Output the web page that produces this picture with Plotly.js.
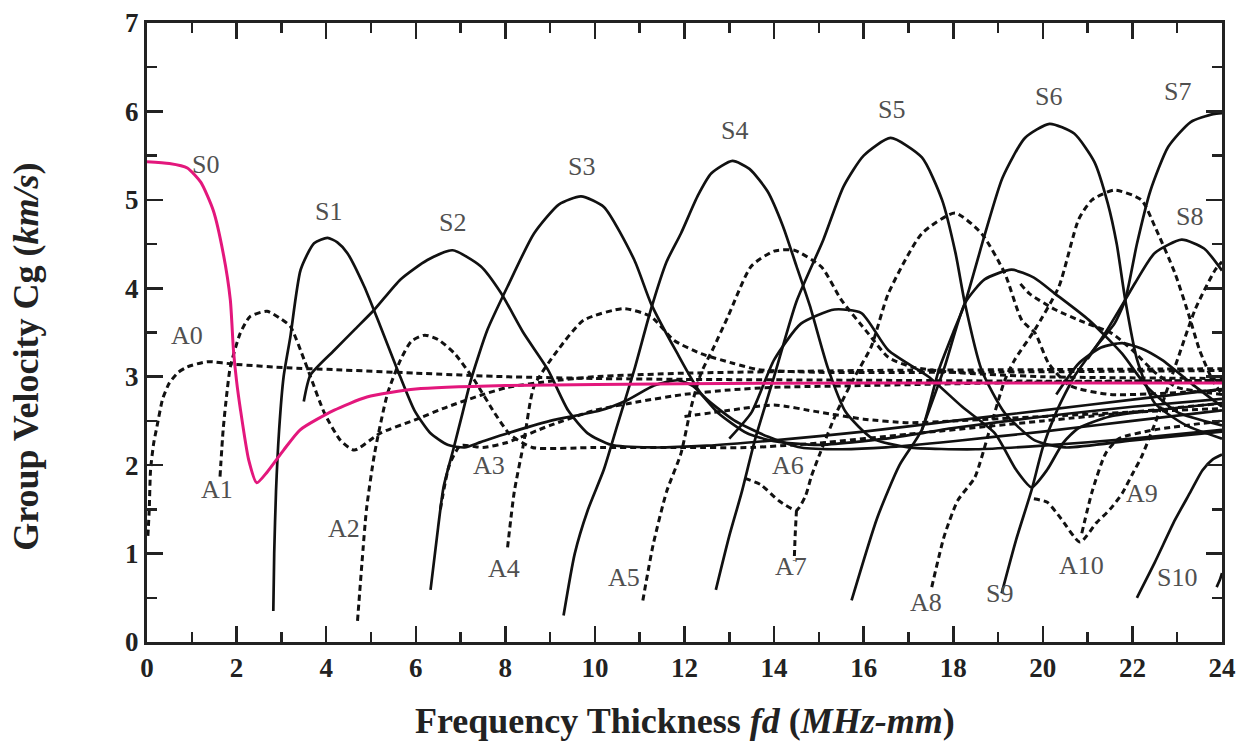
<!DOCTYPE html>
<html><head><meta charset="utf-8">
<script src="https://cdn.plot.ly/plotly-3.0.1.min.js"></script>
<style>html,body{margin:0;padding:0;background:#fff}#chart{width:1245px;height:746px}</style>
</head><body><div id="chart"></div>
<script>
// ---------- data (fd in MHz-mm, Cg in km/s) ----------
const S0_fd = [0,0.5,0.9,1.2,1.48,1.7,1.86,1.93,2.0,2.08,2.27,2.45,2.68,3.05,3.42,4.17,4.91,6.0,8,12,16,24];
const S0_cg = [5.43,5.41,5.36,5.2,4.88,4.4,3.87,3.3,2.95,2.65,2.06,1.80,1.92,2.17,2.40,2.62,2.77,2.86,2.9,2.92,2.93,2.93];

const S1_fd = [2.82,2.84,2.88,2.95,3.05,3.2,3.43,3.73,4.03,4.25,4.47,4.85,5.21,5.59,5.97,6.33,6.71,7.09,7.45,8.05,9.0,10.13,10.74,11.32,11.85,12.2,12.75,13.4,14.0,15.0,16.5,18,20,22,24];
const S1_cg = [0.35,1.0,1.7,2.4,3.0,3.45,4.21,4.51,4.57,4.52,4.4,4.02,3.57,3.08,2.62,2.36,2.23,2.2,2.26,2.36,2.5,2.62,2.74,2.9,2.96,2.89,2.59,2.36,2.27,2.23,2.3,2.42,2.55,2.66,2.75];
const S2_fd = [3.5,3.65,4.18,4.63,5.08,5.66,6.26,6.82,7.45,7.9,8.4,8.95,9.4,9.84,10.36,11.25,12.5,14,16,18,20,22,24];
const S2_cg = [2.72,3.02,3.3,3.53,3.76,4.1,4.32,4.43,4.25,3.95,3.5,3.08,2.62,2.36,2.23,2.2,2.22,2.28,2.38,2.5,2.62,2.74,2.86];
const S3_fd = [6.33,6.5,6.62,6.85,7.05,7.23,7.6,8.05,8.64,9.2,9.69,10.2,10.88,11.25,11.8,12.37,13.1,13.87,14.6,15.5,16.5,18,20,22,24];
const S3_cg = [0.59,1.3,1.75,2.2,2.6,2.96,3.53,4.02,4.62,4.95,5.04,4.92,4.32,3.83,3.3,2.81,2.51,2.32,2.2,2.18,2.2,2.27,2.38,2.5,2.62];
const S4_fd = [9.3,9.55,9.84,10.2,10.5,10.88,11.25,11.6,11.92,12.3,12.6,13.07,13.45,13.85,14.2,14.5,14.8,15.2,15.6,16.2,17.0,18.5,20,22,24];
const S4_cg = [0.3,1.0,1.49,1.95,2.45,3.08,3.76,4.3,4.62,5.05,5.3,5.44,5.35,5.1,4.7,4.25,3.8,3.1,2.6,2.3,2.2,2.18,2.22,2.3,2.4];
const S5_fd = [12.7,13.0,13.27,13.57,14.0,14.5,15.1,15.55,16.0,16.6,17.3,17.75,18.05,18.26,18.63,19.15,19.82,20.5,22,24];
const S5_cg = [0.59,1.2,1.68,2.28,3.0,3.85,4.55,5.15,5.5,5.7,5.48,5.0,4.4,3.83,3.08,2.59,2.28,2.2,2.28,2.38];
const S6_fd = [15.73,16.3,16.8,17.3,17.68,18.0,18.26,18.7,19.1,19.6,20.15,20.7,21.15,21.45,21.65,21.84,22.1,22.5,23.2,24];
const S6_cg = [0.47,1.4,2.0,2.4,3.08,3.5,3.83,4.6,5.25,5.7,5.86,5.75,5.43,4.96,4.5,3.87,3.2,2.7,2.45,2.3];
const S7_fd = [19.08,19.4,19.75,20.0,20.3,20.7,21.2,21.6,21.84,22.1,22.4,22.8,23.3,23.8,24];
const S7_cg = [0.55,1.15,1.72,2.2,2.6,3.0,3.35,3.6,3.87,4.5,5.1,5.6,5.88,5.97,5.98];
const S8_fd = [17.3,17.8,18.26,18.7,19.3,19.8,20.27,21.03,21.77,22.3,23.0,24];
const S8_cg = [2.4,3.1,3.83,4.1,4.21,4.12,3.94,3.64,3.26,2.9,2.6,2.45];
const S9_fd = [21.0,21.4,21.84,22.06,22.5,23.1,23.6,24];
const S9_cg = [3.2,3.5,3.87,4.06,4.4,4.55,4.45,4.2];
const S10_fd = [22.1,22.5,22.95,23.3,23.56,23.78,24];
const S10_cg = [0.5,0.9,1.38,1.7,1.94,2.06,2.12];
const S11_fd = [23.88,23.95,24];
const S11_cg = [0.62,0.7,0.78];
const H1_fd = [13.0,13.5,14.0,14.6,15.35,15.95,16.55,17.45,18.2,18.93,19.4,19.75,20.1,20.45,20.8,21.5,22.5,24];
const H1_cg = [2.3,2.6,3.19,3.6,3.76,3.72,3.3,3.0,2.66,2.36,1.95,1.75,1.95,2.25,2.42,2.55,2.62,2.7];
const H2_fd = [20.3,20.8,21.3,21.77,22.2,22.66,23.4,24];
const H2_cg = [2.8,3.15,3.33,3.38,3.32,3.19,2.89,2.66];

const A0_fd = [0.02,0.05,0.08,0.15,0.22,0.35,0.5,0.7,0.9,1.34,1.97,3.13,4.17,6,8,10,12,16,20,24];
const A0_cg = [1.2,1.5,1.95,2.25,2.43,2.75,2.93,3.05,3.11,3.17,3.14,3.1,3.08,3.04,3.0,2.98,2.97,2.96,2.95,2.95];
const A1_fd = [1.63,1.7,1.78,1.86,2.08,2.3,2.68,3.0,3.2,3.51,3.65,3.96,4.32,4.63,5.2,5.97,6.71,7.45,8.05,9,10,12,16,20,24];
const A1_cg = [1.87,2.4,2.8,3.11,3.49,3.68,3.74,3.65,3.57,3.19,3.0,2.59,2.28,2.17,2.36,2.51,2.66,2.79,2.88,2.95,3.0,3.04,3.07,3.08,3.09];
const A2_fd = [4.7,4.8,4.9,5.08,5.37,5.66,5.9,6.2,6.5,6.87,7.31,7.76,8.1,8.6,10,12,13.5,15,17,20,24];
const A2_cg = [0.24,0.9,1.5,2.13,2.81,3.19,3.4,3.47,3.42,3.26,2.96,2.59,2.35,2.2,2.2,2.2,2.2,2.25,2.35,2.5,2.7];
const A3_fd = [6.55,6.75,7.0,7.5,8.0,9,10,11,12,13,14,16,18,20,22,24];
const A3_cg = [1.5,2.0,2.22,2.2,2.25,2.45,2.62,2.72,2.8,2.85,2.88,2.9,2.92,2.94,2.95,2.96];
const A4_fd = [8.05,8.2,8.41,8.64,9.17,9.75,10.65,11.25,11.77,12.37,13.1,13.65,15,18,24];
const A4_cg = [1.07,1.7,2.25,2.89,3.3,3.64,3.77,3.68,3.41,3.26,3.15,3.08,3.05,3.05,3.07];
const A5_fd = [11.07,11.3,11.6,11.92,12.15,12.37,12.66,12.97,13.49,14.0,14.45,15.06,15.5,16.1,16.55,17.07,18,20,24];
const A5_cg = [0.47,1.1,1.7,2.13,2.66,3.04,3.34,3.68,4.25,4.42,4.43,4.24,3.87,3.49,3.22,3.11,3.05,3.0,2.98];
const A6_fd = [12.0,13.0,14.0,15.0,16.0,17.0,18.0,20.0,22.0,24.0];
const A6_cg = [2.55,2.62,2.68,2.6,2.52,2.48,2.5,2.55,2.6,2.64];
const A7_fd = [13.35,13.7,14.1,14.5,14.7,14.83,15.0,15.4,15.8,16.17,16.55,17.3,18.04,18.63,19.15,19.53,19.83,20.13,20.6,21.5,24];
const A7_cg = [1.85,1.78,1.6,1.49,1.65,1.87,2.1,2.6,3.0,3.34,3.94,4.62,4.85,4.62,4.17,3.64,3.49,3.15,2.9,2.8,2.85];
const A7s_fd = [14.5,14.47,14.45];
const A7s_cg = [1.49,1.2,0.92];
const A8_fd = [17.52,17.8,18.1,18.48,18.79,19.15,19.37,19.82,20.36,20.8,21.1,21.6,22.2,22.5,22.95,23.27,23.5,23.8,24];
const A8_cg = [0.62,1.2,1.6,1.86,2.36,2.96,3.19,3.53,4.02,4.78,5.0,5.11,5.0,4.7,4.17,3.68,3.3,2.95,2.8];
const A9_fd = [19.5,19.7,20.27,20.9,21.54,22.0,22.5,23.0,24];
const A9_cg = [4.05,3.94,3.76,3.62,3.49,3.3,3.05,2.88,2.8];
const A10_fd = [19.8,20.1,20.4,20.83,21.2,21.5,21.77,22.0,22.2,22.6,22.95,23.4,23.85,24];
const A10_cg = [1.62,1.58,1.4,1.13,1.35,1.5,1.68,1.9,2.09,2.6,3.11,3.76,4.21,4.3];
const A10s_fd = [20.87,21.1,21.4,21.7,22.5,24];
const A10s_cg = [1.23,1.7,2.13,2.3,2.4,2.5];

const labelText = ['S0','S1','S2','S3','S4','S5','S6','S7','S8','S9','S10','A0','A1','A2','A3','A4','A5','A6','A7','A8','A9','A10'];
const labelFd   = [1.30,4.05,6.82,9.69,13.11,16.62,20.13,23.0,23.27,19.04,23.0,0.89,1.57,4.39,7.63,7.97,10.65,14.31,14.38,17.4,22.21,20.87];
const labelCg   = [5.40,4.87,4.74,5.38,5.78,6.02,6.17,6.23,4.81,0.55,0.73,3.47,1.72,1.28,2.0,0.83,0.73,2.0,0.85,0.45,1.68,0.87];

const xTicks = [0,2,4,6,8,10,12,14,16,18,20,22,24];
const yTicks = [0,1,2,3,4,5,6,7];

// ---------- traces ----------
const solid = [[S1_fd,S1_cg],[S2_fd,S2_cg],[S3_fd,S3_cg],[S4_fd,S4_cg],[S5_fd,S5_cg],[S6_fd,S6_cg],[S7_fd,S7_cg],[S8_fd,S8_cg],[S9_fd,S9_cg],[S10_fd,S10_cg],[S11_fd,S11_cg],[H1_fd,H1_cg],[H2_fd,H2_cg]];
const dashed = [[A0_fd,A0_cg],[A1_fd,A1_cg],[A2_fd,A2_cg],[A3_fd,A3_cg],[A4_fd,A4_cg],[A5_fd,A5_cg],[A6_fd,A6_cg],[A7_fd,A7_cg],[A7s_fd,A7s_cg],[A8_fd,A8_cg],[A9_fd,A9_cg],[A10_fd,A10_cg],[A10s_fd,A10s_cg]];
const traces = [];
dashed.forEach(d => traces.push({x:d[0],y:d[1],mode:'lines',line:{color:'#111',width:3,dash:'6px,4px',shape:'spline',smoothing:0.6},hoverinfo:'skip'}));
solid.forEach(d => traces.push({x:d[0],y:d[1],mode:'lines',line:{color:'#111',width:2.7,shape:'spline',smoothing:0.6},hoverinfo:'skip'}));
traces.push({x:S0_fd,y:S0_cg,mode:'lines',line:{color:'#e3177c',width:3,shape:'spline',smoothing:0.6},hoverinfo:'skip'});

const serif = 'Liberation Serif, Times New Roman, serif';
const annotations = labelText.map((t,i)=>({x:labelFd[i],y:labelCg[i],xref:'x',yref:'y',text:t,showarrow:false,font:{family:serif,size:26,color:'#505050'}}));
annotations.push({xref:'paper',yref:'paper',x:0.5,y:-0.128,yanchor:'middle',text:'<b>Frequency Thickness <i>fd</i> (<i>MHz-mm</i>)</b>',showarrow:false,font:{family:serif,size:36,color:'#222'}});
annotations.push({xref:'paper',yref:'paper',x:-0.112,xanchor:'center',y:0.46,text:'<b>Group Velocity Cg (<i>km/s</i>)</b>',textangle:-90,showarrow:false,font:{family:serif,size:36,color:'#222'}});

const axisCommon = {showline:true,linecolor:'#222',linewidth:3,mirror:'ticks',ticks:'inside',ticklen:16,tickwidth:2.5,tickcolor:'#222',showgrid:false,zeroline:false,
  tickfont:{family:serif,size:27,color:'#222',weight:'bold'}};
const layout = {
  width:1245,height:746,margin:{l:147,r:23,t:23,b:104},paper_bgcolor:'#fff',plot_bgcolor:'#fff',showlegend:false,
  xaxis:Object.assign({},axisCommon,{range:[0,24],tickvals:xTicks,ticktext:xTicks.map(String),minor:{dtick:1,tick0:0,ticks:'inside',ticklen:10,tickwidth:2.5,tickcolor:'#222'}}),
  yaxis:Object.assign({},axisCommon,{range:[0,7],tickvals:yTicks,ticktext:yTicks.map(String),minor:{dtick:0.5,tick0:0,ticks:'inside',ticklen:10,tickwidth:2.5,tickcolor:'#222'}}),
  annotations:annotations
};
Plotly.newPlot('chart',traces,layout,{staticPlot:true});
</script></body></html>
